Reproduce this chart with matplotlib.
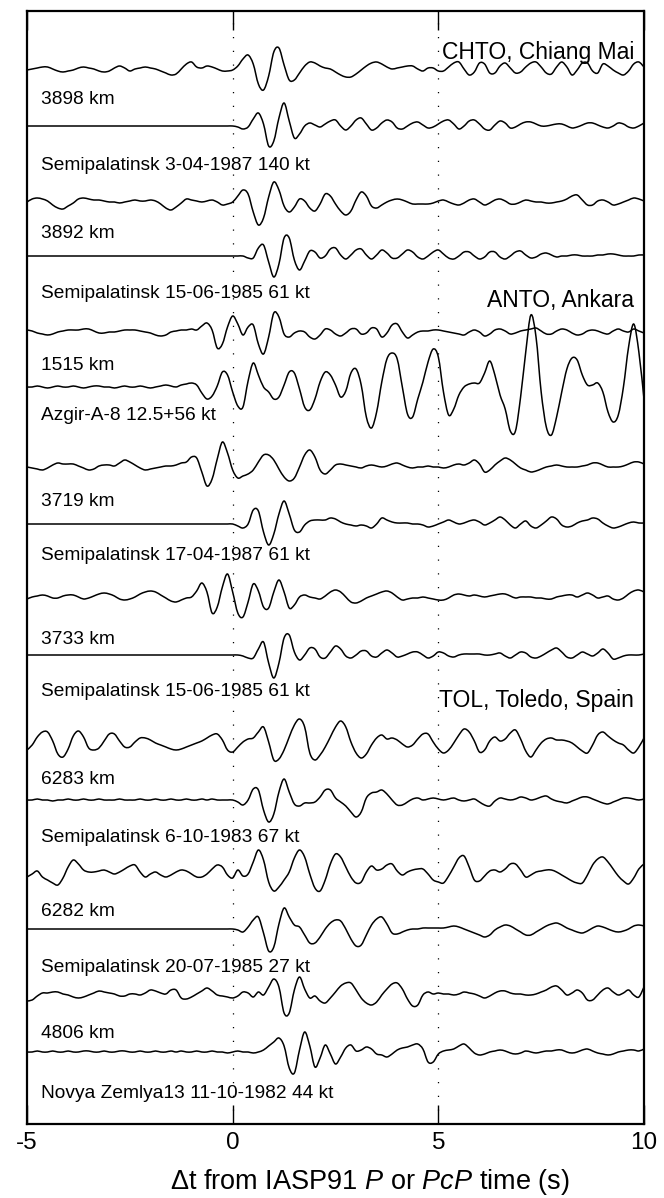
import numpy as np
import matplotlib
matplotlib.use("Agg")
import matplotlib.pyplot as plt
from matplotlib.path import Path
from matplotlib.patches import PathPatch

plt.rcParams['font.family'] = ['Liberation Sans', 'DejaVu Sans']
plt.rcParams['axes.unicode_minus'] = False
plt.rcParams['mathtext.fontset'] = 'custom'
plt.rcParams['mathtext.rm'] = 'Liberation Sans'
plt.rcParams['mathtext.it'] = 'Liberation Sans:italic'

# ---------------- data ----------------
# time axis of every trace (s relative to IASP91 P / PcP), sampled every 0.125 s
T_START, T_STEP = -5.0, 0.125

stations = ["CHTO, Chiang Mai", "ANTO, Ankara", "TOL, Toledo, Spain"]
distances = ["3898 km", "3892 km", "1515 km", "3719 km", "3733 km",
             "6283 km", "6282 km", "4806 km"]
events = ["Semipalatinsk 3-04-1987 140 kt",
          "Semipalatinsk 15-06-1985 61 kt",
          "Azgir-A-8 12.5+56 kt",
          "Semipalatinsk 17-04-1987 61 kt",
          "Semipalatinsk 15-06-1985 61 kt",
          "Semipalatinsk 6-10-1983 67 kt",
          "Semipalatinsk 20-07-1985 27 kt",
          "Novya Zemlya13 11-10-1982 44 kt"]

# trace amplitudes (arbitrary units), one value per 0.125 s
chto_3898 = [0, 1, 2, 3, 3, 1, -1, -2,
             -1, 0, 2, 3, 2, 1, -1, -2,
             -1, 2, 4, 2, -1, 1, 2, 3,
             2, 1, -1, -3, -5, -4, 1, 6,
             8, 3, 2, 4, 3, 1, -1, -1,
             0, 4, 11, 15, 6, -14, -20, -6,
             18, 22, 5, -10, -10, -3, 4, 8,
             7, 4, 2, 1, -2, -5, -7, -7,
             -4, 0, 4, 7, 8, 6, 3, 1,
             2, 3, 4, 4, 1, -1, 2, 2,
             -1, -1, 3, 7, 8, 1, -5, -2,
             7, 6, -3, -3, 4, 7, 2, -3,
             -2, 3, 7, 8, 3, -3, -4, 3,
             8, 3, -5, 0, 7, 7, -1, -3,
             6, 4, 0, -3, -5, -1, 6, 8,
             3]
semi_1987_04_03 = [0] * 40 + [
             0, -1, -3, -1, 7, 13, 2, -20,
             -15, 8, 23, 5, -12, -8, 0, 3,
             1, -1, 2, 5, 6, 0, -4, 0,
             6, 8, 2, -4, -2, 3, 6, 4,
             -2, -3, 0, 3, 4, 1, -2, -1,
             2, 5, 6, 2, -3, 0, 5, 6,
             2, -3, -4, 1, 5, 3, -2, -1,
             2, 4, 4, 2, 0, 0, 1, 2,
             2, 0, -2, -1, 1, 3, 3, 1,
             -1, -2, 0, 3, 2, -1, -2, 0,
             3]
chto_3892 = [0, 3, 4, 3, 1, -3, -6, -7,
             -4, -1, 3, 4, 3, 2, 2, 1,
             0, 0, -1, 0, 1, 2, 1, 1,
             2, 1, -2, -6, -8, -5, -1, 3,
             2, 1, 0, 1, 2, 0, -3, -2,
             0, 6, 12, 8, -10, -23, -16, 5,
             20, 12, -4, -10, -5, 3, 1, -6,
             -9, -2, 8, 6, -2, -9, -13, -9,
             2, 10, 6, -4, -6, -3, 0, 2,
             3, 2, 0, -2, -2, -2, -2, -1,
             1, 2, 0, -2, -3, -1, 2, 3,
             0, -3, -1, 2, 3, 1, -2, -2,
             0, 2, 1, 0, 0, -1, -1, 0,
             1, 3, 6, 7, 2, -3, -3, 1,
             2, 0, -3, -2, 0, 2, 4, 3,
             1]
semi_1985_06_15_a = [0] * 40 + [
             0, 0, 0, -2, -2, 8, 11, -6,
             -21, -8, 18, 18, -4, -14, -5, 5,
             4, -2, 0, 7, 8, 1, -3, 1,
             6, 7, 1, -3, 1, 6, 3, -2,
             -2, 2, 6, 4, -1, -3, 0, 4,
             6, 2, -2, -3, 0, 4, 4, 0,
             -3, -1, 4, 4, -1, -3, 0, 4,
             5, 1, -2, -1, 2, 3, 1, -1,
             0, 0, 1, 1, 0, 0, 0, 1,
             1, 2, 2, 1, 0, 0, 0, 1,
             1]
anto_1515 = [2, 1, -1, -2, -3, -2, 0, 1,
             2, 2, 2, 3, 3, 1, -1, -1,
             0, 0, 1, 2, 2, 2, 1, 0,
             -1, -3, -4, -3, 0, 1, 2, 2,
             3, 2, 6, 9, 2, -16, -12, 5,
             16, 8, -3, 5, 7, -12, -22, -5,
             19, 15, -2, -5, -1, 1, 0, -5,
             -7, -3, 3, 2, -2, -4, -1, 3,
             3, -2, -1, 4, 3, -5, -1, 7,
             8, 0, -6, -3, 0, 1, 1, 2,
             2, 1, 0, -1, -2, -3, 0, 2,
             0, -4, -2, 2, 3, 1, -2, -1,
             1, 2, 3, 4, 1, -2, -2, 1,
             3, 2, -1, -3, -2, 1, 2, 1,
             -1, -2, 1, 3, 1, 0, 3, 1,
             -1]
azgir = [0, 0, 1, 0, -1, 0, 1, 0,
         0, 1, 0, -1, 0, 1, 1, 0,
         0, -1, 0, 1, 0, 0, 1, 0,
         -1, 0, 1, 2, 1, 0, 2, 3,
         4, 2, -6, -12, -9, 1, 15, 12,
         -5, -19, -20, 6, 24, 12, 0, -5,
         -12, -10, 2, 15, 14, -2, -20, -23,
         -12, 5, 15, 12, 2, -10, -4, 14,
         18, 2, -30, -41, -25, 5, 28, 34,
         28, 0, -27, -30, -12, 5, 25, 38,
         30, -5, -28, -22, -8, 0, 3, 4,
         4, 14, 26, 12, -8, -22, -44, -44,
         -10, 35, 72, 50, -5, -40, -48, -30,
         -5, 18, 29, 27, 12, 2, 2, 4,
         -5, -25, -35, -28, 0, 40, 63, 35,
         -12]
anto_3719 = [0, -1, -2, -3, -1, 2, 4, 3,
             3, 3, 1, -1, -3, -2, 1, 2,
             2, 1, 4, 7, 5, 2, -1, -3,
             -2, -1, 0, 1, 1, 2, 4, 5,
             10, 9, -5, -19, -12, 8, 25, 14,
             -3, -11, -9, -7, -3, 5, 12, 12,
             7, -2, -10, -14, -11, 0, 12, 17,
             10, -3, -7, -3, 2, 3, 2, 1,
             0, -1, 1, 2, 1, 0, 1, 3,
             4, 2, 0, -1, 0, 0, 1, 0,
             0, -1, 0, 2, 3, 2, 4, 7,
             3, -5, -3, 2, 6, 9, 7, 3,
             -1, -3, -5, -4, -2, 0, 1, 2,
             1, 0, 0, 0, 1, 2, 4, 4,
             2, 0, 0, 0, 1, 3, 5, 5,
             3]
semi_1987_04_17 = [0] * 40 + [
             0, -2, -4, 0, 14, 13, -8, -21,
             -10, 10, 23, 10, -6, -8, -1, 3,
             4, 4, 4, 6, 5, 2, 0, -1,
             -2, -1, -2, -4, 0, 6, 4, 2,
             1, 1, 1, 0, 0, -1, -3, -2,
             0, 2, 4, 2, 0, 1, 3, 4,
             2, -1, 1, 4, 7, 4, -1, -4,
             0, 3, -2, -4, -1, 3, 7, 5,
             -1, -3, -2, 1, 3, 4, 6, 5,
             1, -2, -4, -3, -1, 1, 2, 1,
             1]
anto_3733 = [-2, 0, 1, 2, 1, -1, -1, 1,
             2, 2, 0, -2, -1, 1, 3, 4,
             3, 1, -2, -3, -2, 0, 3, 5,
             6, 5, 2, -1, -4, -5, -3, -1,
             0, 6, 14, 5, -16, -10, 10, 23,
             5, -16, -20, -5, 13, 6, -10, -11,
             5, 17, 5, -11, -8, 0, 2, 0,
             -1, -2, 1, 5, 7, 5, 0, -5,
             -6, -4, -1, 1, 3, 5, 6, 4,
             0, -3, -2, -1, -1, 0, -1, -2,
             -3, -3, -1, 2, 3, 2, 1, 2,
             1, 0, 1, 2, 3, 3, 1, -1,
             0, 0, 0, -1, -1, -2, -2, 0,
             1, 2, 2, 0, 2, 4, 2, -1,
             0, 1, -2, -3, -1, 3, 6, 7,
             5]
semi_1985_06_15_b = [0] * 40 + [
             0, 0, -1, -3, -3, 6, 13, -8,
             -23, -8, 17, 20, 3, -5, 0, 7,
             6, -2, -3, 3, 9, 6, -1, -3,
             0, 4, 4, -1, -2, 2, 5, 2,
             -2, -1, 1, 3, 3, 0, -3, -1,
             3, 2, -1, -2, 0, 1, 1, 1,
             1, 0, 0, 1, 2, -1, -3, 0,
             3, 2, -2, -3, -1, 2, 5, 7,
             3, -2, -3, 0, 3, 1, -1, 2,
             6, 2, -4, -3, -1, 0, 0, 0,
             1]
tol_6283 = [-5, 0, 8, 13, 13, 4, -9, -12,
            -4, 9, 14, 8, -3, -5, -3, 4,
            11, 11, 4, -2, -2, 3, 7, 7,
            5, 2, 0, -2, -4, -5, -4, -2,
            0, 2, 4, 7, 10, 11, 5, -5,
            -7, -2, 3, 6, 7, 13, 18, 3,
            -15, -14, -5, 8, 20, 26, 18, -8,
            -15, -10, -2, 8, 18, 24, 18, 3,
            -8, -13, -9, 0, 7, 10, 6, 7,
            5, 1, -2, 0, 6, 11, 11, 3,
            -4, -8, -5, 2, 10, 16, 13, 4,
            -7, -5, 4, 8, 4, 6, 12, 15,
            6, -6, -12, -5, 2, 6, 7, 5,
            5, 4, 2, -2, -6, -8, 0, 10,
            13, 9, 5, 2, 0, -5, -8, -2,
            7]
semi_1983_10_06 = [0, 0, 1, 0, 0, -1, 0, 0,
                   1, 0, 0, 1, 0, 0, 1, 0,
                   0, 0, 1, 0, 0, 0, 1, 0,
                   0, 1, 0, 0, 1, 0, 0, 1,
                   0, 0, 1, 0, 1, 0, 0, 0,
                   0, -2, -5, 0, 11, 10, -10, -22,
                   -14, 8, 21, 8, -4, -6, -3, -3,
                   -2, 3, 10, 10, 2, -2, -6, -12,
                   -17, -12, 2, 7, 8, 10, 6, 0,
                   -5, -5, -2, 1, 2, 0, 1, 2,
                   1, 0, 1, 2, 0, -1, 0, 1,
                   -2, -5, -6, -1, 2, 1, 0, 1,
                   3, 2, 0, 1, 3, 4, 1, -1,
                   -2, -3, -1, 1, 3, 3, 1, -1,
                   -3, -4, -2, 0, 2, 2, 1, 0,
                   1]
tol_6282 = [-5, -2, 1, -5, -8, -11, -13, -6,
            5, 12, 8, 2, 0, 0, 1, 2,
            0, -2, 0, 3, 6, 7, 0, -5,
            -2, 0, -3, -5, -3, 0, 2, 1,
            -2, -5, -5, -2, 3, 7, 5, -3,
            -6, 2, -4, -2, 10, 22, 12, -10,
            -19, -15, -8, 0, 14, 22, 15, -2,
            -16, -19, -8, 8, 18, 15, 5, -5,
            -11, -10, 0, 6, 2, 3, 7, 8,
            1, -3, 0, 2, 3, 3, -2, -8,
            -10, -11, -4, 5, 14, 16, 5, -8,
            -9, -4, 1, 2, 0, 3, 8, 8,
            2, -5, -3, 0, 1, 2, 2, 0,
            -3, -6, -9, -11, -11, -3, 7, 13,
            15, 10, 3, -4, -9, -12, -6, 3,
            8]
semi_1985_07_20 = [0] * 40 + [
            0, -1, -3, 2, 9, 12, -4, -22,
            -18, 5, 21, 12, 4, 2, -6, -14,
            -14, -8, 0, 6, 9, 8, 0, -10,
            -17, -16, -6, 4, 10, 12, 5, -4,
            -5, -3, -1, 0, 0, 1, 1, 1,
            1, 1, 2, 3, 2, 0, -2, -4,
            -6, -8, -6, -1, 2, 4, 3, 0,
            -3, -6, -6, -3, 0, 3, 5, 6,
            4, 1, -1, -3, -4, -2, 1, 3,
            2, 0, -2, -3, -2, 0, 3, 4,
            3]
tol_4806 = [-6, -5, -1, 2, 2, 3, 3, 1,
            0, -2, -3, -2, 0, 2, 4, 3,
            2, 1, -1, -1, 1, 1, 0, 2,
            5, 4, 2, 1, 5, 5, -3, -4,
            -2, 1, 4, 7, 4, 0, -1, -2,
            -3, -1, 3, 2, -2, 3, 0, 8,
            16, 8, -18, -18, 5, 18, 6, -3,
            -1, -6, -8, -3, 3, 9, 12, 12,
            5, -3, -8, -10, -7, 0, 6, 11,
            12, 6, -4, -11, -10, 0, 3, 1,
            2, 1, 1, 0, 1, 3, 2, 1,
            -1, -3, -1, 2, 4, 4, 2, 1,
            1, 0, 0, 1, 3, 5, 8, 9,
            5, 0, 2, 5, 2, -5, -5, 0,
            5, 7, 3, 0, 2, 5, 0, -2,
            8]
novya_1982 = [0, 0, 1, 0, 0, 1, 0, 0,
              1, 0, 0, 1, 1, 0, 0, 1,
              0, 0, 1, 1, 0, 0, 1, 0,
              0, 1, 0, 0, 1, 0, 1, 0,
              0, 1, 0, 0, 1, 0, 0, -1,
              0, 1, 0, 0, -1, 0, 2, 6,
              10, 14, 6, -16, -21, 2, 20, 6,
              -15, -6, 7, -2, -12, -5, 4, 7,
              1, 2, 5, 3, -2, -3, -5, -2,
              2, 4, 5, 7, 8, 3, -10, -10,
              -2, 1, 2, 3, 6, 8, 4, -1,
              -3, -2, 0, 1, 2, 1, -1, -2,
              -1, 1, 0, -1, 0, 1, 1, 2,
              2, 0, -1, 0, 2, 3, 1, -1,
              -2, -3, -2, 0, 1, 2, 2, 1,
              3]

traces = [chto_3898, semi_1987_04_03, chto_3892, semi_1985_06_15_a,
          anto_1515, azgir, anto_3719, semi_1987_04_17,
          anto_3733, semi_1985_06_15_b, tol_6283, semi_1983_10_06,
          tol_6282, semi_1985_07_20, tol_4806, novya_1982]

# ---------------- layout (vertical positions in figure-pixel rows) ----------------
baselines = [70, 126, 202, 256, 332, 387, 467, 524,
             597, 655, 745, 800, 872, 929, 995, 1052]
dist_y = [100, 233, 366, 502, 640, 780, 912, 1033]
event_y = [165, 293, 416, 555, 692, 837, 967, 1093]
station_y = [52, 300, 701]


def smooth_path(x, y):
    """Smooth (Catmull-Rom style) Bezier path passing through every sample."""
    pts = np.column_stack([x, y])
    ext = np.vstack([pts[0], pts, pts[-1]])
    verts = [pts[0]]
    codes = [Path.MOVETO]
    for i in range(len(pts) - 1):
        p0, p1, p2, p3 = ext[i], ext[i + 1], ext[i + 2], ext[i + 3]
        verts += [p1 + (p2 - p0) / 6.0, p2 - (p3 - p1) / 6.0, p2]
        codes += [Path.CURVE4] * 3
    return Path(verts, codes)


W, H = 664, 1198
fig = plt.figure(figsize=(W / 100, H / 100), dpi=100)
ax_top, ax_bot, ax_l, ax_r = 11, 1124, 27, 644
ax = fig.add_axes([ax_l / W, 1 - ax_bot / H, (ax_r - ax_l) / W, (ax_bot - ax_top) / H])
ax.set_xlim(-5, 10)
ax.set_ylim(ax_bot, ax_top)

for tr, base in zip(traces, baselines):
    amp = np.asarray(tr, dtype=float)
    t = T_START + T_STEP * np.arange(len(amp))
    ax.add_patch(PathPatch(smooth_path(t, base - amp), facecolor='none',
                           edgecolor='black', lw=1.1, joinstyle='round'))

for xv in (0, 5):
    ax.axvline(xv, color='black', lw=0.9, linestyle=(0, (1, 10)))

for s, y in zip(distances, dist_y):
    ax.text(-4.65, y, s, fontsize=13.8, va='center', ha='left')
for s, y in zip(events, event_y):
    ax.text(-4.65, y, s, fontsize=13.8, va='center', ha='left')
for s, y in zip(stations, station_y):
    ax.text(9.76, y, s, fontsize=16.5, va='center', ha='right')

ax.set_xticks([-5, 0, 5, 10])
ax.set_xticklabels(['-5', '0', '5', '10'])
ax.set_yticks([])
ax.tick_params(axis='x', direction='in', length=14, width=1.0, top=True,
               bottom=True, labelsize=17.5, pad=6)
for sp in ax.spines.values():
    sp.set_linewidth(1.6)
ax.set_xlabel(r"Δt from IASP91 $\mathit{P}$ or $\mathit{PcP}$ time (s)",
              fontsize=19.5)
ax.xaxis.set_label_coords((369.5 - ax_l) / (ax_r - ax_l),
                          (ax_bot - 1182) / (ax_bot - ax_top))
ax.xaxis.label.set_va('center')

fig.savefig("out.png", dpi=100)
